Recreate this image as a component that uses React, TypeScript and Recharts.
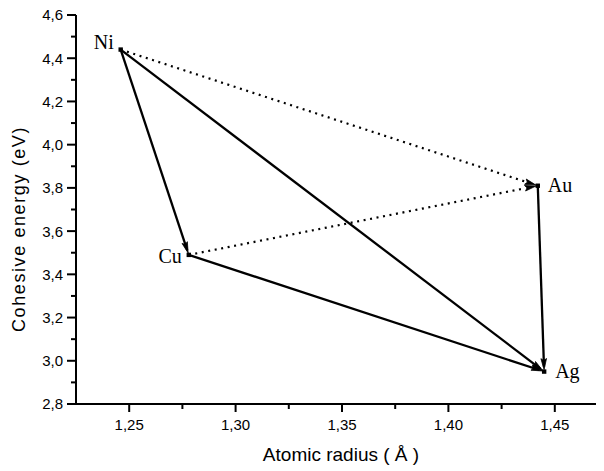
import React from 'react';
import { ScatterChart, Scatter, XAxis, YAxis } from 'recharts';

// ---- data ----
const elements = ['Ni', 'Cu', 'Au', 'Ag'];
const radii = [1.246, 1.278, 1.442, 1.445];
const energies = [4.44, 3.49, 3.81, 2.95];
const solidArrows: [string, string][] = [['Ni', 'Cu'], ['Ni', 'Ag'], ['Cu', 'Ag'], ['Au', 'Ag']];
const dottedArrows: [string, string][] = [['Ni', 'Au'], ['Cu', 'Au']];
const xTicks = [1.25, 1.275, 1.3, 1.325, 1.35, 1.375, 1.4, 1.425, 1.45, 1.475];
const xMajor = [1.25, 1.3, 1.35, 1.4, 1.45];
const yTicks = [2.8, 2.9, 3.0, 3.1, 3.2, 3.3, 3.4, 3.5, 3.6, 3.7, 3.8, 3.9, 4.0, 4.1, 4.2, 4.3, 4.4, 4.5, 4.6];
const yMajor = [2.8, 3.0, 3.2, 3.4, 3.6, 3.8, 4.0, 4.2, 4.4, 4.6];

const points = elements.map((name, i) => ({ name, x: radii[i], y: energies[i] }));
const byName = (n: string) => points.find((p) => p.name === n)!;

// ---- styles ----
const SANS = '"Liberation Sans", Arial, sans-serif';
const SERIF = '"Liberation Serif", "Times New Roman", serif';
const labelPlacement: Record<string, { dx: number; dy: number; anchor: 'start' | 'end' }> = {
  Ni: { dx: -7, dy: -1, anchor: 'end' },
  Cu: { dx: -7, dy: 8, anchor: 'end' },
  Au: { dx: 10, dy: 6, anchor: 'start' },
  Ag: { dx: 11, dy: 6, anchor: 'start' },
};

const isMajor = (v: number, list: number[]) => list.some((m) => Math.abs(m - v) < 1e-6);
const fmt = (v: number, digits: number) => v.toFixed(digits).replace('.', ',');

const XTick = (props: any) => {
  const { x, y, payload } = props;
  const major = isMajor(payload.value, xMajor);
  return (
    <g>
      <line x1={x} x2={x} y1={y} y2={y + (major ? 8 : 5)} stroke="#000" strokeWidth={2} />
      {major && (
        <text x={x} y={y + 26} textAnchor="middle" fontFamily={SANS} fontSize={15} fill="#000">
          {fmt(payload.value, 2)}
        </text>
      )}
    </g>
  );
};

const YTick = (props: any) => {
  const { x, y, payload } = props;
  const major = isMajor(payload.value, yMajor);
  return (
    <g>
      <line x1={x - (major ? 9 : 5)} x2={x} y1={y} y2={y} stroke="#000" strokeWidth={2} />
      {major && (
        <text x={x - 13} y={y} dy="0.36em" textAnchor="end" fontFamily={SANS} fontSize={15} fill="#000">
          {fmt(payload.value, 1)}
        </text>
      )}
    </g>
  );
};

const makeArrow = (dotted: boolean) => (props: any) => {
  const pts = props.points;
  if (!pts || pts.length < 2) return <g />;
  const a = pts[0];
  const b = pts[1];
  const dx = b.x - a.x;
  const dy = b.y - a.y;
  const len = Math.sqrt(dx * dx + dy * dy) || 1;
  const ux = dx / len;
  const uy = dy / len;
  const nx = -uy;
  const ny = ux;
  const tipX = b.x - ux * 2;
  const tipY = b.y - uy * 2;
  const baseX = tipX - ux * 11;
  const baseY = tipY - uy * 11;
  const hw = 2.8;
  const endX = dotted ? baseX : tipX - ux * 3;
  const endY = dotted ? baseY : tipY - uy * 3;
  return (
    <g>
      <line
        x1={a.x}
        y1={a.y}
        x2={endX}
        y2={endY}
        stroke="#000"
        strokeWidth={dotted ? 2.2 : 2.3}
        strokeDasharray={dotted ? '2 4.6' : undefined}
      />
      <polygon
        points={`${tipX},${tipY} ${baseX + nx * hw},${baseY + ny * hw} ${baseX + ux * 2},${baseY + uy * 2} ${baseX - nx * hw},${baseY - ny * hw}`}
        fill="#000"
        stroke="#000"
        strokeWidth={0.8}
        strokeLinejoin="miter"
      />
    </g>
  );
};

const PointShape = (props: any) => {
  const { cx, cy, payload } = props;
  const p = labelPlacement[payload.name];
  return (
    <g>
      <rect x={cx - 2.2} y={cy - 2.2} width={4.4} height={4.4} fill="#000" />
      <text x={cx + p.dx} y={cy + p.dy} textAnchor={p.anchor} fontFamily={SERIF} fontSize={20} fill="#000">
        {payload.name}
      </text>
    </g>
  );
};

const Empty = () => <g />;

export default function App() {
  return (
    <div style={{ width: 596, height: 471, overflow: 'hidden', marginTop: -8 }}>
      <ScatterChart width={600} height={471} margin={{ top: 15, right: 0, bottom: 0, left: 0 }}>
        <XAxis
          type="number"
          dataKey="x"
          domain={[1.225, 1.475]}
          ticks={xTicks}
          allowDataOverflow
          height={67}
          tickSize={0}
          tickMargin={0}
          tickLine={false}
          tick={<XTick />}
          axisLine={{ stroke: '#000', strokeWidth: 2 }}
          interval={0}
          label={{
            content: () => (
              <text x={333} y={461} textAnchor="middle" fontFamily={SANS} fontSize={19} fill="#000">
                Atomic radius ( Å )
              </text>
            ),
          }}
        />
        <YAxis
          type="number"
          dataKey="y"
          domain={[2.8, 4.6]}
          ticks={yTicks}
          allowDataOverflow
          width={68}
          tickSize={0}
          tickMargin={0}
          tickLine={false}
          tick={<YTick />}
          axisLine={{ stroke: '#000', strokeWidth: 2 }}
          interval={0}
          label={{
            content: () => (
              <text
                x={11}
                y={229}
                transform="rotate(-90 11 229)"
                textAnchor="middle"
                dominantBaseline="central"
                fontFamily={SANS}
                fontSize={18}
                letterSpacing={1.6}
                fill="#000"
              >
                Cohesive energy (eV)
              </text>
            ),
          }}
        />
        {dottedArrows.map(([from, to], i) => (
          <Scatter
            key={`d${i}`}
            data={[byName(from), byName(to)]}
            line={makeArrow(true)}
            shape={<Empty />}
            isAnimationActive={false}
          />
        ))}
        {solidArrows.map(([from, to], i) => (
          <Scatter
            key={`s${i}`}
            data={[byName(from), byName(to)]}
            line={makeArrow(false)}
            shape={<Empty />}
            isAnimationActive={false}
          />
        ))}
        <Scatter data={points} shape={<PointShape />} isAnimationActive={false} />
      </ScatterChart>
    </div>
  );
}
